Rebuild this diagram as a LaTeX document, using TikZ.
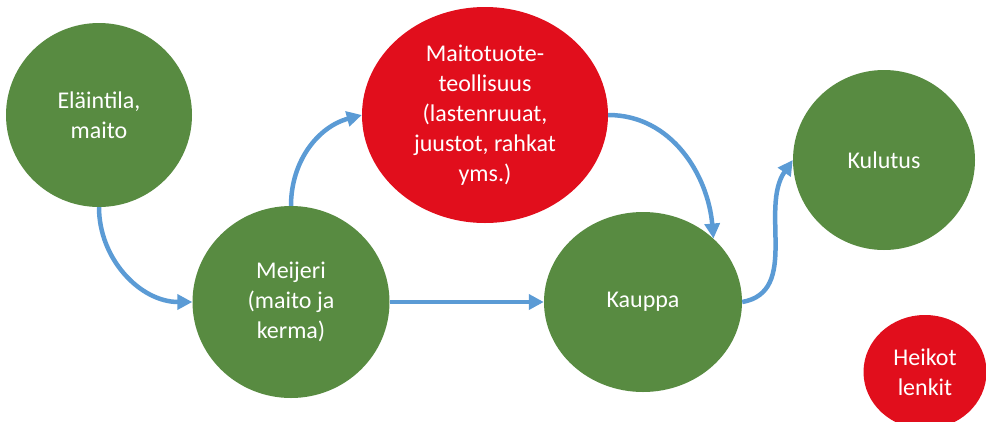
\documentclass[tikz,border=0pt]{standalone}
\usepackage{fontspec}
\setmainfont{Carlito}
\usepackage{tikz}
\usetikzlibrary{shapes.geometric,arrows.meta,positioning}
\definecolor{vihrea}{HTML}{588B41}
\definecolor{punainen}{HTML}{E10E1C}
\definecolor{nuoli}{HTML}{5B9BD5}

\begin{document}
\begin{tikzpicture}[x=1pt, y=-1pt, font=\fontsize{24}{30}\selectfont,
  vaihe/.style={ellipse, fill=vihrea, text=white, align=center, inner sep=0pt},
  heikko/.style={ellipse, fill=punainen, text=white, align=center, inner sep=0pt},
  virta/.style={-{Triangle[length=15pt,width=15pt]}, nuoli, line width=4.5pt}]
\useasboundingbox (0,0) rectangle (986,421);
\node[vaihe,minimum width=186pt,minimum height=184pt] (elain) at (99,115) {Eläintila,\\maito};
\node[vaihe,minimum width=197pt,minimum height=192pt] (meijeri) at (291,302) {Meijeri\\(maito ja\\kerma)};
\node[heikko,minimum width=246pt,minimum height=216pt] (maito) at (485,115) {Maitotuote-\\teollisuus\\(lastenruuat,\\juustot, rahkat\\yms.)};
\node[vaihe,minimum width=198pt,minimum height=180pt] (kauppa) at (643,302) {Kauppa};
\node[vaihe,minimum width=182pt,minimum height=180pt] (kulutus) at (884,160) {Kulutus};
\node[heikko,minimum width=123pt,minimum height=114pt] (heikot) at (925,372) {Heikot\\lenkit};
\draw[virta] (elain.south) to[out=-90,in=180] (meijeri.west);
\draw[virta] (meijeri.north) to[out=90,in=195] (maito.west);
\draw[virta] (maito.east) to[out=0,in=95] (kauppa.42);
\draw[virta] (meijeri.east) -- (kauppa.west);
\draw[virta] (kauppa.east) to[out=10,in=235] (kulutus.west);
\end{tikzpicture}
\end{document}
